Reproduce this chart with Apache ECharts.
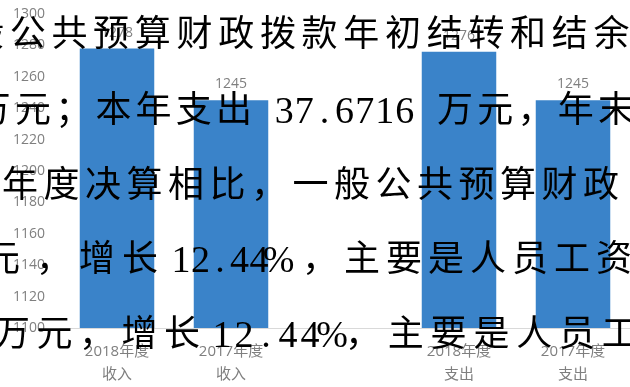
<!DOCTYPE html>
<html>
<head>
<meta charset="utf-8">
<script src="https://cdn.jsdelivr.net/npm/echarts@6/dist/echarts.min.js"></script>
<style>
  html, body { margin: 0; padding: 0; background: #fff; }
  #chart { width: 630px; height: 387px; }
</style>
</head>
<body>
<div id="chart"></div>
<script>
// Budget figures: income and expenditure, 2018 vs 2017 (blank slot separates the two groups)
const categories = ['2018年度\n收入', '2017年度\n收入', '', '2018年度\n支出', '2017年度\n支出'];
const amounts = [1278, 1245, null, 1276, 1245];
const yMin = 1100;
const yMax = 1300;
const yStep = 20;

// Report text printed across the chart, one list of runs per line
const noteRuns = [
  ['般公共预算财政拨款年初结转和结余'],
  ['万元；本年支出 37.6716 万元，年末'],
  ['年度决算相比，一般公共预算财政'],
  ['元', '，增长', '12.44%', '，主要是人员工资'],
  ['万元，增长', '12.44%', '，主要是人员工']
];
// Placement of each line: centre y, and for each run [centre x of first glyph, full-width pitch]
const noteLayout = [
  { y: 37, runs: [[-14, 41.7]] },
  { y: 113, runs: [[-7.2, 40.2]] },
  { y: 188, runs: [[20, 41.5]] },
  { y: 262, runs: [[2, 42], [54, 43], [181, 39], [320, 42]] },
  { y: 337, runs: [[12, 42.5], [222, 44], [363, 42.8]] }
];

function buildNoteGlyphs() {
  const out = [];
  noteRuns.forEach((line, li) => {
    const lay = noteLayout[li];
    line.forEach((run, ri) => {
      const [cx0, pitch] = lay.runs[ri];
      const chars = Array.from(run);
      let left = null;
      chars.forEach((ch) => {
        const wide = /[^\x00-\xff]/.test(ch);
        const step = wide ? pitch : pitch / 2;
        if (left === null) left = cx0 - step / 2;
        if (ch !== ' ') {
          out.push({
            type: 'text',
            x: left + step / 2,
            y: lay.y,
            z: 100,
            silent: true,
            style: {
              text: ch,
              fill: '#000',
              font: (wide ? '36px' : '38px') + ' "Liberation Serif", "Noto Sans CJK SC"',
              align: 'center',
              verticalAlign: 'middle'
            }
          });
        }
        left += step;
      });
    });
  });
  return out;
}

const chart = echarts.init(document.getElementById('chart'), null, { renderer: 'canvas' });
chart.setOption({
  animation: false,
  backgroundColor: '#fff',
  grid: { left: 60, top: 14, width: 597.5, bottom: 59 },
  xAxis: {
    type: 'category',
    data: categories,
    axisLine: { show: true, lineStyle: { color: '#d9d9d9', width: 1 } },
    axisTick: { show: false },
    axisLabel: {
      interval: 0,
      color: '#7f7f7f',
      fontSize: 15,
      lineHeight: 23,
      margin: 12,
      fontFamily: '"Open Sans", "Noto Sans CJK SC"'
    }
  },
  yAxis: {
    type: 'value',
    min: yMin,
    max: yMax,
    interval: yStep,
    axisLine: { show: false },
    axisTick: { show: false },
    splitLine: { show: false },
    axisLabel: {
      color: '#7f7f7f',
      fontSize: 14,
      margin: 15,
      fontFamily: '"Open Sans"',
      formatter: (v) => String(v)
    }
  },
  series: [{
    type: 'bar',
    data: amounts,
    barWidth: 74.5,
    itemStyle: { color: '#3a83c9' },
    label: {
      show: true,
      position: 'top',
      distance: 9,
      color: '#7f7f7f',
      fontSize: 14,
      fontFamily: '"Open Sans"'
    }
  }],
  graphic: buildNoteGlyphs()
});
</script>
</body>
</html>
